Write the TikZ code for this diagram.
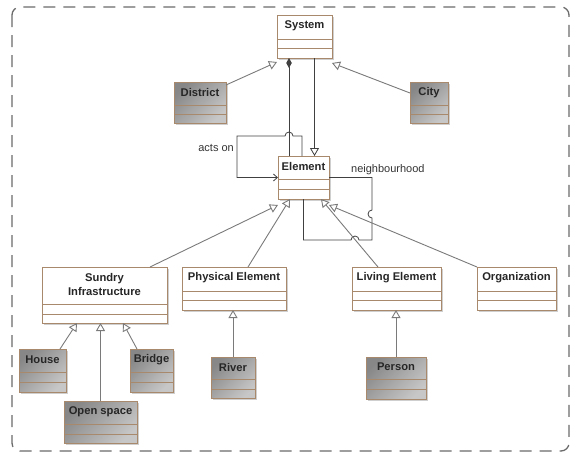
\documentclass[tikz,border=0pt]{standalone}
\usepackage{fontspec}
\setmainfont{Liberation Sans}
\usetikzlibrary{arrows.meta,calc,shadows}
\definecolor{bord}{HTML}{A8896C}
\definecolor{genc}{HTML}{7A7A7A}
\definecolor{assc}{HTML}{404040}
\definecolor{shad}{HTML}{CFCFCF}
\definecolor{framec}{HTML}{6A6A6A}
\tikzset{
  clsbox/.style={draw=bord, line width=0.8pt, inner sep=0pt, outer sep=0pt},
  plainfill/.style={fill=white, drop shadow={shadow xshift=2pt, shadow yshift=-2pt, fill=shad, opacity=1}},
  grayfill/.style={top color=black!47, bottom color=black!22, shading angle=45,
                   drop shadow={shadow xshift=2pt, shadow yshift=-2pt, fill=shad, opacity=1}},
  clsname/.style={font=\fontsize{11.2}{13.8}\selectfont\bfseries, align=center, inner sep=0pt, text=black!85},
  lbl/.style={font=\fontsize{11}{13}\selectfont, inner sep=0pt, text=black!80},
  genline/.style={draw=genc, line width=0.9pt, -{Triangle[length=8pt,width=9pt,fill=white]}},
  gendark/.style={draw=assc, line width=0.8pt, -{Triangle[length=8pt,width=9pt,fill=white]}},
  compline/.style={draw=assc, line width=0.8pt, -{Diamond[length=10pt,width=5.5pt,fill=assc]}},
  assoc/.style={draw=assc, line width=0.8pt},
  framebox/.style={draw=framec, line width=1.3pt, dash pattern=on 12pt off 8pt, rounded corners=8pt}
}
\newcommand\umlcls[9]{%
  \node[clsbox,#8,minimum width=#4pt,minimum height=#5pt,anchor=north west] (#1) at (#2,#3) {};
  \draw[clsbox] ([yshift=-#6pt]#1.north west) -- ([yshift=-#6pt]#1.north east);
  \draw[clsbox] ([yshift=-#7pt]#1.north west) -- ([yshift=-#7pt]#1.north east);
  \node[clsname] (#1-name) at ([yshift={-#6*0.5pt+1pt}]#1.north) {#9};
}
\begin{document}
\begin{tikzpicture}[x=1pt,y=-1pt]
\useasboundingbox (0,0) rectangle (572,453);
\draw[framebox] (12,7) rectangle (569,451);

\umlcls{sys}{277}{15}{55}{43}{24}{33}{plainfill}{System}
\umlcls{elem}{278}{156}{51}{43}{23}{33}{plainfill}{Element}
\umlcls{dist}{174}{82}{52}{41}{23}{32}{grayfill}{District}
\umlcls{city}{410}{82}{38}{41}{23}{32}{grayfill}{City}
\umlcls{sundry}{42}{267}{125}{56}{37}{47}{plainfill}{Sundry\\Infrastructure}
\umlcls{phys}{182}{267}{104}{43}{24}{33}{plainfill}{Physical Element}
\umlcls{living}{352}{267}{89}{43}{24}{33}{plainfill}{Living Element}
\umlcls{org}{477}{267}{79}{43}{24}{33}{plainfill}{Organization}
\umlcls{house}{19}{349}{47}{43}{23}{33}{grayfill}{House}
\umlcls{bridge}{130}{349}{43}{43}{23}{33}{grayfill}{Bridge}
\umlcls{open}{64}{401}{73}{42}{23}{33}{grayfill}{Open space}
\umlcls{river}{211}{357}{44}{41}{22}{32}{grayfill}{River}
\umlcls{person}{366}{357}{60}{42}{22}{32}{grayfill}{Person}

% System relations
\draw[genline] ([yshift=-3pt]dist.north east) -- ([yshift=-4pt]sys.south west);
\draw[genline] ([yshift=-11pt]city.north west) -- ([yshift=-5pt]sys.south east);
\draw[compline] ([xshift=-14.5pt]elem.north) -- ([xshift=-14.5pt]elem.north |- sys.south);
\draw[gendark] ([xshift=10pt]sys.south) -- ([xshift=10pt]sys.south |- elem.north);

% acts on
\draw[assoc, -{Straight Barb[length=4pt,width=7pt]}] ([xshift=-1.5pt]elem.north) -- ++(0,-20) -- ++(-9,0)
  arc[start angle=0,end angle=180,radius=4pt] -- ++(-48,0) |- (elem.west);
\node[lbl, anchor=east] (actson) at (234,148) {acts on};

% neighbourhood
\draw[assoc] (elem.east) -- ++(43,0) -- ++(0,32.5)
  arc[start angle=90,end angle=270,radius=4pt] -- ++(0,22) -- ++(-13,0)
  arc[start angle=0,end angle=180,radius=4pt] -| (elem.south);
\node[lbl, anchor=west] (nbh) at (351,170) {neighbourhood};

% generalizations to Element
\draw[genline] ([xshift=45.5pt]sundry.north) -- ([yshift=-6pt]elem.south west);
\draw[genline] ([xshift=14pt]phys.north) -- ([xshift=12pt]elem.south west);
\draw[genline] ([xshift=-18.5pt]living.north) -- ([xshift=-8pt]elem.south east);
\draw[genline] (org.north west) -- ([yshift=-6pt]elem.south east);

% generalizations to Sundry
\draw[genline] ([xshift=-6pt]house.north east) -- ([xshift=35pt]sundry.south west);
\draw[genline] (open.north) -- (open.north |- sundry.south);
\draw[genline] ([xshift=7pt]bridge.north west) -- ([xshift=81pt]sundry.south west);
\draw[genline] (river.north) -- (river.north |- phys.south);
\draw[genline] (person.north) -- (person.north |- living.south);
\end{tikzpicture}
\end{document}
